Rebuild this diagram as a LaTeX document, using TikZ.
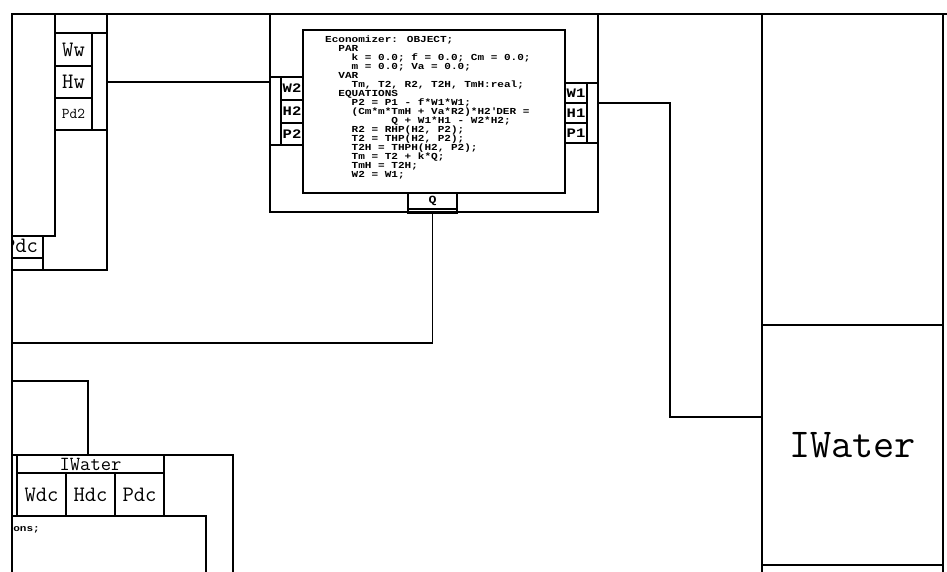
\documentclass[tikz,border=0pt]{standalone}
\usepackage{fontspec}
\newfontfamily\codefont[FakeStretch=1.2]{Liberation Mono}
\newcommand\codesize{\fontsize{9.2}{9}\selectfont\lineskiplimit=-20pt\relax}
\usetikzlibrary{positioning}
\tikzset{
  ln/.style={line width=1.6pt},
  blk/.style={draw,ln,inner sep=0pt,outer sep=0pt,anchor=north west},
  sz/.style 2 args={minimum width=#1pt,minimum height=#2pt},
  tport/.style={blk,font=\ttfamily\fontsize{22}{22}\selectfont},
  bport/.style={blk,font=\codefont\bfseries\fontsize{13}{13}\selectfont},
  code/.style={inner sep=0pt,anchor=north west,align=left,
    font=\codefont\bfseries\codesize}
}

\begin{document}
\begin{tikzpicture}[x=1pt,y=-1pt]
\useasboundingbox (0,0) rectangle (947,571);
\clip (11,0) rectangle (947,571);
% frame
\draw[ln] (12,571) |- (947,14);
\draw[ln] (943,14) -- (943,571);

% feed water block (top left)
\node[blk,sz={95}{256}] (feed) at (12,14) {};
\draw[ln] (12,236) -| (55,14);
\node[tport,sz={37}{33}] (ww) at (55,33) {Ww};
\node[tport,sz={37}{32},below=0pt of ww] (hw) {Hw};
\node[tport,sz={37}{32},below=0pt of hw,font=\ttfamily\fontsize{15}{15}\selectfont] (pd2) {Pd2};
\draw[ln] (ww.north west) -- (feed.east |- ww.north);
\draw[ln] (pd2.south west) -- (feed.east |- pd2.south);
\node[blk,sz={31}{22}] (pdcl) at (12,236) {};
\node[font=\ttfamily\fontsize{22}{22}\selectfont,inner sep=0pt] (pdcltxt) at (21,246) {Pdc};
\draw[ln] (pdcl.south east) -- (pdcl.east |- feed.south);

% economizer
\node[blk,sz={328}{198}] (econ) at (270,14) {};
\node[blk,sz={262}{163}] (body) at (303,30) {};
\node[code] (eqs) at (325,36) {%
Economizer: OBJECT;\\
~~PAR\\
~~~~k = 0.0; f = 0.0; Cm = 0.0;\\
~~~~m = 0.0; Va = 0.0;\\
~~VAR\\
~~~~Tm, T2, R2, T2H, TmH:real;\\
~~EQUATIONS\\
~~~~P2 = P1 - f*W1*W1;\\
~~~~(Cm*m*TmH + Va*R2)*H2\textquotesingle DER =\\
~~~~~~~~~~Q + W1*H1 - W2*H2;\\
~~~~R2 = RHP(H2, P2);\\
~~~~T2 = THP(H2, P2);\\
~~~~T2H = THPH(H2, P2);\\
~~~~Tm = T2 + k*Q;\\
~~~~TmH = T2H;\\
~~~~W2 = W1;};
\node[bport,sz={22}{23}] (w2) at (281,77) {W2};
\node[bport,sz={22}{23},below=0pt of w2] (h2) {H2};
\node[bport,sz={22}{22},below=0pt of h2] (p2) {P2};
\draw[ln] (econ.west |- w2.north) -- (w2.north west);
\draw[ln] (econ.west |- p2.south) -- (p2.south west);
\node[bport,sz={22}{20}] (w1) at (565,83) {W1};
\node[bport,sz={22}{20},below=0pt of w1] (h1) {H1};
\node[bport,sz={22}{20},below=0pt of h1] (p1) {P1};
\draw[ln] (w1.north east) -- (econ.east |- w1.north);
\draw[ln] (p1.south east) -- (econ.east |- p1.south);
\node[bport,sz={49}{16},font=\codefont\bfseries\fontsize{11}{11}\selectfont] (q) at (408,193) {Q};
\node[blk,sz={49}{4},below=0pt of q] (qsub) {};

% water side (right)
\node[blk,sz={181}{311}] (upper) at (762,14) {};
\node[blk,sz={181}{240},font=\ttfamily\fontsize{41}{41}\selectfont] (iwat) at (762,325) {IWater};
\node[blk,sz={181}{30},below=0pt of iwat] (iwnext) {};

% drum block (bottom left)
\node[blk,sz={76}{74}] (mix) at (12,381) {};
\node[blk,sz={221}{140}] (dcblk) at (12,455) {};
\node[blk,sz={147}{18},font=\ttfamily\fontsize{20}{20}\selectfont] (iwt) at (17,455) {IWater};
\node[tport,sz={49}{43}] (wdc) at (17,473) {Wdc};
\node[tport,sz={49}{43},right=0pt of wdc] (hdc) {Hdc};
\node[tport,sz={49}{43},right=0pt of hdc] (pdc) {Pdc};
\node[blk,sz={194}{60}] (eqblk) at (12,516) {};
\node[code,anchor=east] (frag) at (40,530) {ons;};

% connections
\coordinate (qc) at (12,343);
\coordinate (bend) at (670,417);
\draw[ln] (feed.east |- hw.east) -- (econ.west |- hw.east);
\draw[ln] (qsub.south) |- (qc);
\draw[ln] (econ.east |- w1.south) -| (bend) -- (iwat.west |- bend);
\end{tikzpicture}
\end{document}
